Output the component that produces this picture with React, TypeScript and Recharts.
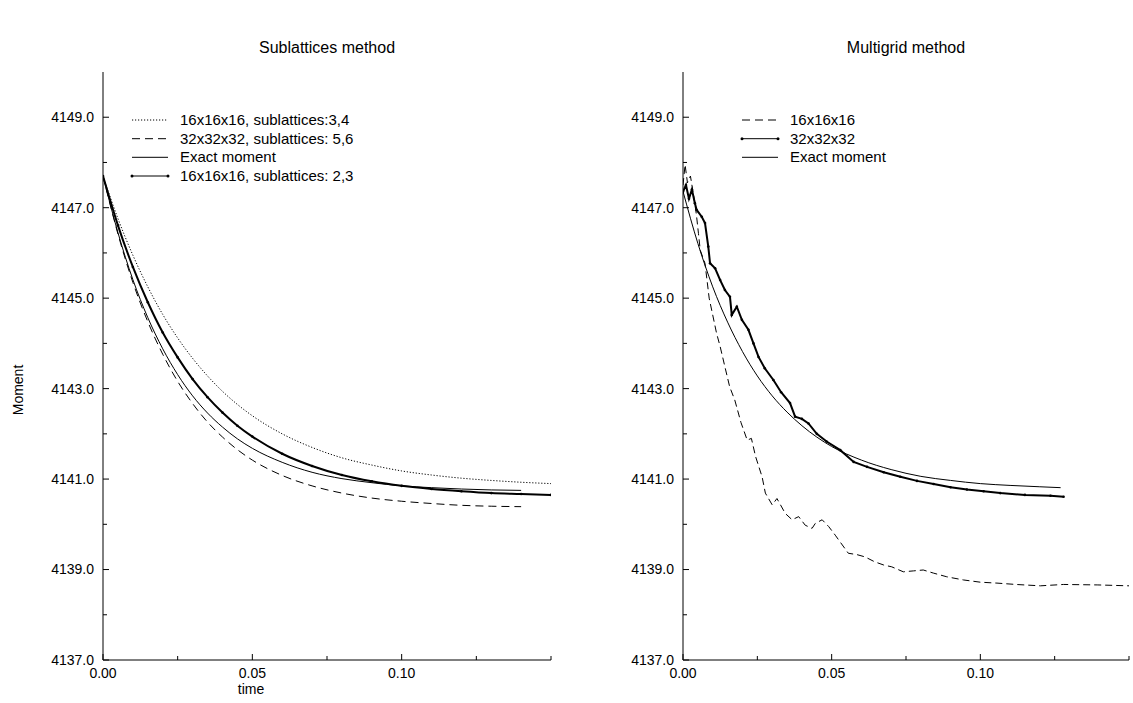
import { Line, LineChart, XAxis, YAxis } from "recharts";

const FONT = "'Liberation Sans', Arial, Helvetica, sans-serif";

// axis ticks (labels only on every other tick)
const Y_TICKS = [4137, 4138, 4139, 4140, 4141, 4142, 4143, 4144, 4145, 4146, 4147, 4148, 4149];
const Y_TICK_LABELS = ["4137.0", "", "4139.0", "", "4141.0", "", "4143.0", "", "4145.0", "", "4147.0", "", "4149.0"];
const X_TICKS = [0, 0.025, 0.05, 0.075, 0.1, 0.125, 0.15];
const X_TICK_LABELS = ["0.00", "", "0.05", "", "0.10", "", ""];

// Sublattices method
const LEFT_T = [0, 0.005, 0.01, 0.015, 0.02, 0.025, 0.03, 0.035, 0.04, 0.045, 0.05, 0.06, 0.07, 0.08, 0.09, 0.1, 0.11, 0.12, 0.13, 0.14, 0.15];
const SUB_16_34 = [4147.7, 4146.76, 4145.95, 4145.25, 4144.64, 4144.12, 4143.67, 4143.28, 4142.94, 4142.65, 4142.4, 4142.0, 4141.7, 4141.47, 4141.31, 4141.18, 4141.09, 4141.02, 4140.97, 4140.93, 4140.9];
const SUB_32_56 = [4147.7, 4146.42, 4145.35, 4144.48, 4143.76, 4143.16, 4142.67, 4142.26, 4141.93, 4141.65, 4141.42, 4141.08, 4140.85, 4140.69, 4140.58, 4140.51, 4140.46, 4140.42, 4140.4, 4140.39];
const SUB_EXACT = [4147.7, 4146.45, 4145.41, 4144.57, 4143.88, 4143.31, 4142.84, 4142.46, 4142.15, 4141.89, 4141.68, 4141.37, 4141.15, 4141.01, 4140.92, 4140.85, 4140.81, 4140.78, 4140.76, 4140.75];
const SUB_16_23 = [4147.7, 4146.61, 4145.69, 4144.91, 4144.24, 4143.69, 4143.21, 4142.81, 4142.47, 4142.18, 4141.94, 4141.56, 4141.29, 4141.09, 4140.95, 4140.85, 4140.78, 4140.73, 4140.69, 4140.67, 4140.65];

// Multigrid method
const MG_16_T = [0, 0.0007, 0.0015, 0.0025, 0.0035, 0.0045, 0.0052, 0.0058, 0.0074, 0.0088, 0.0113, 0.0125, 0.0141, 0.0157, 0.0174, 0.0195, 0.0216, 0.023, 0.0244, 0.0266, 0.0277, 0.03, 0.0316, 0.0344, 0.0367, 0.0389, 0.0411, 0.0434, 0.0445, 0.0468, 0.049, 0.0512, 0.0556, 0.0585, 0.0612, 0.0645, 0.0675, 0.0702, 0.0741, 0.0775, 0.0808, 0.0843, 0.0887, 0.0943, 0.1, 0.1056, 0.112, 0.1202, 0.128, 0.1393, 0.15];
const MG_16 = [4147.5, 4147.95, 4147.55, 4147.7, 4147.3, 4146.85, 4146.43, 4146.06, 4145.77, 4145.0, 4144.22, 4143.93, 4143.48, 4143.04, 4142.75, 4142.25, 4141.86, 4141.9, 4141.5, 4141.05, 4140.69, 4140.43, 4140.57, 4140.24, 4140.1, 4140.17, 4139.98, 4139.91, 4140.02, 4140.1, 4139.95, 4139.76, 4139.36, 4139.33, 4139.28, 4139.17, 4139.1, 4139.06, 4138.95, 4138.97, 4138.99, 4138.92, 4138.84, 4138.77, 4138.72, 4138.7, 4138.67, 4138.64, 4138.67, 4138.66, 4138.64];
const MG_32_T = [0, 0.001, 0.002, 0.003, 0.004, 0.0046, 0.0063, 0.0074, 0.0085, 0.0091, 0.0108, 0.0125, 0.0141, 0.0158, 0.0164, 0.0181, 0.0198, 0.022, 0.0237, 0.0254, 0.0275, 0.0304, 0.033, 0.036, 0.0377, 0.04, 0.0422, 0.045, 0.0483, 0.0529, 0.0574, 0.0619, 0.0675, 0.0731, 0.0787, 0.0843, 0.09, 0.0955, 0.1011, 0.1067, 0.115, 0.1236, 0.128];
const MG_32 = [4147.35, 4147.5, 4147.2, 4147.4, 4147.1, 4146.95, 4146.8, 4146.66, 4146.14, 4145.77, 4145.66, 4145.4, 4145.18, 4145.03, 4144.63, 4144.81, 4144.52, 4144.3, 4144.0, 4143.7, 4143.45, 4143.19, 4142.92, 4142.68, 4142.38, 4142.33, 4142.23, 4142.0, 4141.83, 4141.64, 4141.38, 4141.27, 4141.15, 4141.05, 4140.96, 4140.89, 4140.82, 4140.77, 4140.73, 4140.69, 4140.65, 4140.63, 4140.61];
const MG_EXACT_T = [0, 0.005, 0.01, 0.015, 0.02, 0.025, 0.03, 0.035, 0.04, 0.05, 0.06, 0.07, 0.08, 0.09, 0.1, 0.11, 0.12, 0.127];
const MG_EXACT = [4147.36, 4146.21, 4145.25, 4144.47, 4143.82, 4143.28, 4142.84, 4142.48, 4142.18, 4141.72, 4141.42, 4141.21, 4141.06, 4140.97, 4140.9, 4140.86, 4140.83, 4140.81];

const toRows = (ts: number[], vs: number[]) => vs.map((v, i) => ({ t: ts[i], v }));

function LeftTick({ x, y, index }: any) {
  const label = Y_TICK_LABELS[index];
  const ax = x + 9;
  return (
    <g>
      <line x1={ax} y1={y} x2={ax + (label ? 6 : 4)} y2={y} stroke="#000" />
      {label && (
        <text x={x} y={y} dy="0.35em" textAnchor="end" fontSize={14} fontFamily={FONT} fill="#000">
          {label}
        </text>
      )}
    </g>
  );
}

function RightTick({ x, y, index }: any) {
  const len = Y_TICK_LABELS[index] ? 6 : 4;
  return <line x1={x} y1={y} x2={x - len} y2={y} stroke="#000" />;
}

function BottomTick({ x, y, index }: any) {
  const label = X_TICK_LABELS[index];
  const base = y - 13;
  return (
    <g>
      <line x1={x} y1={base} x2={x} y2={base - (label ? 6 : 4)} stroke="#000" />
      {label && (
        <text x={x} y={y} dy="0.35em" textAnchor="middle" fontSize={14} fontFamily={FONT} fill="#000">
          {label}
        </text>
      )}
    </g>
  );
}

function TopTick({ x, y, index }: any) {
  const len = X_TICK_LABELS[index] ? 6 : 4;
  return <line x1={x} y1={y} x2={x} y2={y + len} stroke="#000" />;
}

function Panel({ left, width, right, children }: any) {
  return (
    <div style={{ position: "absolute", left, top: 0 }}>
      <LineChart width={width} height={703} margin={{ top: 72, right, bottom: 13, left: 0 }}>
        <XAxis
          xAxisId="b"
          dataKey="t"
          type="number"
          domain={[0, 0.15]}
          allowDataOverflow
          ticks={X_TICKS}
          interval={0}
          height={30}
          tickSize={0}
          tickMargin={13}
          tickLine={false}
          axisLine={{ stroke: "#000" }}
          tick={<BottomTick />}
        />
        <XAxis
          xAxisId="top"
          orientation="top"
          dataKey="t"
          type="number"
          domain={[0, 0.15]}
          allowDataOverflow
          ticks={X_TICKS}
          interval={0}
          height={0}
          tickSize={0}
          tickMargin={0}
          tickLine={false}
          axisLine={{ stroke: "#000" }}
          tick={<TopTick />}
        />
        <YAxis
          yAxisId="l"
          type="number"
          domain={[4137, 4150]}
          allowDataOverflow
          ticks={Y_TICKS}
          interval={0}
          width={103}
          tickSize={0}
          tickMargin={9}
          tickLine={false}
          axisLine={{ stroke: "#000" }}
          tick={<LeftTick />}
        />
        <YAxis
          yAxisId="r"
          orientation="right"
          type="number"
          domain={[4137, 4150]}
          allowDataOverflow
          ticks={Y_TICKS}
          interval={0}
          width={0}
          tickSize={0}
          tickMargin={0}
          tickLine={false}
          axisLine={{ stroke: "#000" }}
          tick={<RightTick />}
        />
        {children}
      </LineChart>
    </div>
  );
}

function seriesProps(data: any[], stroke: any) {
  return {
    data,
    dataKey: "v",
    xAxisId: "b",
    yAxisId: "l",
    stroke: "#000",
    dot: false,
    activeDot: false,
    isAnimationActive: false,
    ...stroke,
  };
}

const DOTTED = { strokeWidth: 1, strokeDasharray: "1.2 1.8", type: "monotone" };
const DASHED = { strokeWidth: 1, strokeDasharray: "8 5", type: "monotone" };
const SOLID = { strokeWidth: 1, type: "monotone" };
const THICK = { strokeWidth: 2, type: "monotone", dot: { r: 1.3, fill: "#000", stroke: "none" } };

function LegendRow({ x, y, kind, label }: any) {
  const x2 = x + 36;
  return (
    <g>
      {kind === "dotted" && <line x1={x} y1={y} x2={x2} y2={y} stroke="#000" strokeDasharray="1.2 1.8" />}
      {kind === "dashed" && <line x1={x} y1={y} x2={x2} y2={y} stroke="#000" strokeDasharray="8 5" />}
      {kind === "solid" && <line x1={x} y1={y} x2={x2} y2={y} stroke="#000" />}
      {kind === "points" && (
        <g>
          <line x1={x} y1={y} x2={x2} y2={y} stroke="#000" />
          <circle cx={x} cy={y} r={1.5} fill="#000" />
          <circle cx={x2} cy={y} r={1.5} fill="#000" />
        </g>
      )}
      <text x={x2 + 12} y={y + 5} fontSize={15} fontFamily={FONT} fill="#000">
        {label}
      </text>
    </g>
  );
}

export default function App() {
  return (
    <div style={{ position: "absolute", left: 0, top: 0, width: 1133, height: 703, background: "#fff" }}>
      <Panel left={0} width={566} right={15}>
        <Line {...seriesProps(toRows(LEFT_T, SUB_16_34), DOTTED)} />
        <Line {...seriesProps(toRows(LEFT_T, SUB_32_56), DASHED)} />
        <Line {...seriesProps(toRows(LEFT_T, SUB_EXACT), SOLID)} />
        <Line {...seriesProps(toRows(LEFT_T, SUB_16_23), THICK)} />
      </Panel>
      <Panel left={580} width={553} right={4}>
        <Line {...seriesProps(toRows(MG_16_T, MG_16), { ...DASHED, type: "linear", strokeDasharray: "7 4" })} />
        <Line {...seriesProps(toRows(MG_EXACT_T, MG_EXACT), SOLID)} />
        <Line {...seriesProps(toRows(MG_32_T, MG_32), { ...THICK, type: "linear" })} />
      </Panel>
      <svg width={1133} height={703} style={{ position: "absolute", left: 0, top: 0, pointerEvents: "none" }}>
        <text x={327} y={53} textAnchor="middle" fontSize={16} fontFamily={FONT} fill="#000">
          Sublattices method
        </text>
        <text x={906} y={53} textAnchor="middle" fontSize={16} fontFamily={FONT} fill="#000">
          Multigrid method
        </text>
        <text x={18} y={390} dy="0.35em" textAnchor="middle" fontSize={14} fontFamily={FONT} fill="#000" transform="rotate(-90 18 390)">
          Moment
        </text>
        <text x={251} y={694} textAnchor="middle" fontSize={14} fontFamily={FONT} fill="#000">
          time
        </text>
        <LegendRow x={132} y={120} kind="dotted" label="16x16x16, sublattices:3,4" />
        <LegendRow x={132} y={138.7} kind="dashed" label="32x32x32, sublattices: 5,6" />
        <LegendRow x={132} y={157.3} kind="solid" label="Exact moment" />
        <LegendRow x={132} y={176} kind="points" label="16x16x16, sublattices: 2,3" />
        <LegendRow x={742} y={120} kind="dashed" label="16x16x16" />
        <LegendRow x={742} y={138.7} kind="points" label="32x32x32" />
        <LegendRow x={742} y={157.3} kind="solid" label="Exact moment" />
      </svg>
    </div>
  );
}
